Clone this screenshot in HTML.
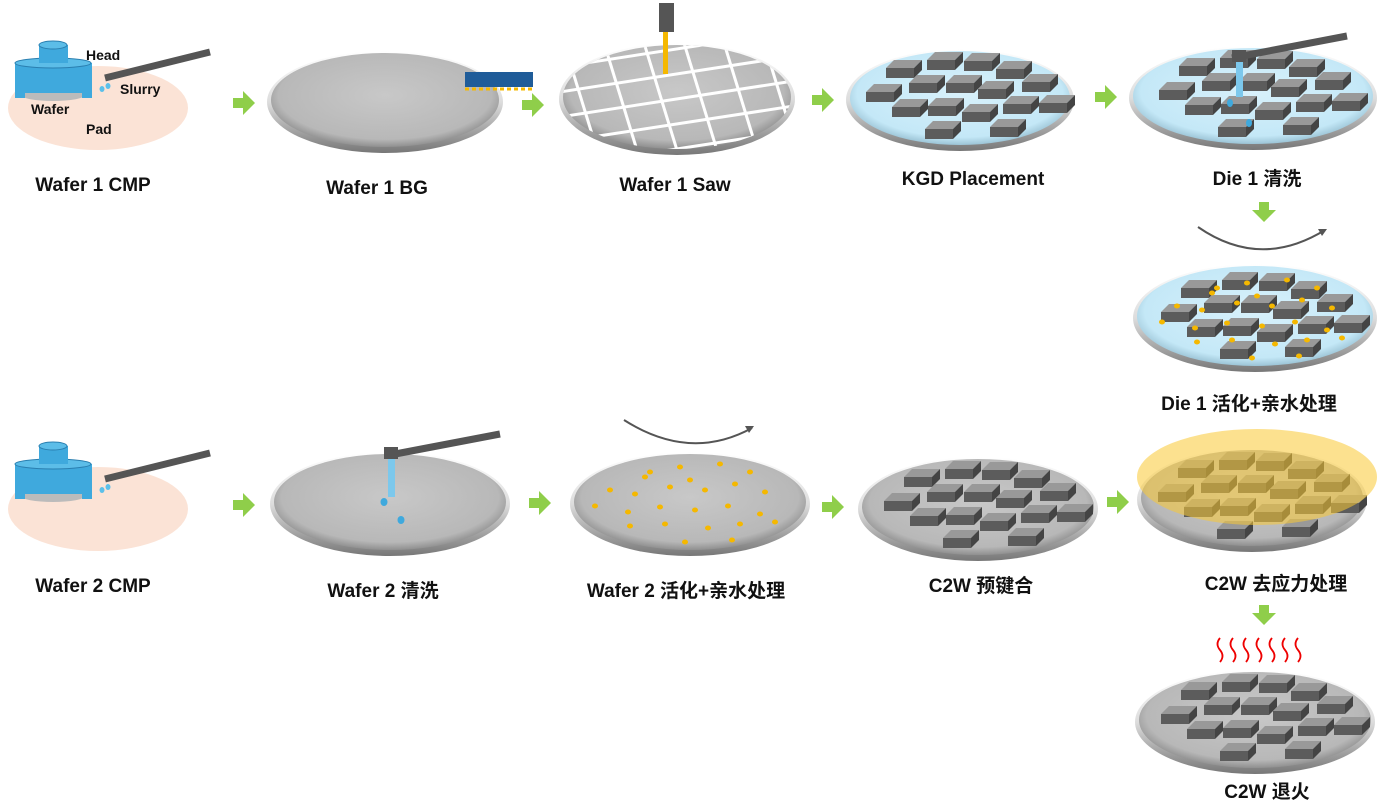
<!DOCTYPE html>
<html><head><meta charset="utf-8"><style>
html,body{margin:0;padding:0;background:#fff;}
svg{display:block;}
text{font-family:"Liberation Sans","Noto Sans CJK SC",sans-serif;font-weight:bold;fill:#111;}
</style></head><body>
<svg width="1388" height="802" viewBox="0 0 1388 802" xmlns="http://www.w3.org/2000/svg">
<defs>
<radialGradient id="gw" cx="50%" cy="45%" r="55%">
<stop offset="0" stop-color="#c8c8c8"/><stop offset="0.85" stop-color="#b8b8b8"/><stop offset="1" stop-color="#909090"/></radialGradient>
<radialGradient id="bw" cx="50%" cy="45%" r="55%">
<stop offset="0" stop-color="#d8f1fb"/><stop offset="0.85" stop-color="#c4e8f7"/><stop offset="1" stop-color="#9cc4d6"/></radialGradient>
<linearGradient id="rim" x1="0" y1="0" x2="0" y2="1"><stop offset="0" stop-color="#fff"/><stop offset="0.5" stop-color="#ddd"/><stop offset="1" stop-color="#777"/></linearGradient>
<g id="die">
<polygon points="0,8 8,0 36,0 28,8" fill="#999"/>
<rect x="0" y="8" width="28" height="10" fill="#5c5c5c"/>
<polygon points="28,8 36,0 36,10 28,18" fill="#444"/>
</g>
<g id="dies">
<use href="#die" x="886" y="60"/><use href="#die" x="927" y="52"/><use href="#die" x="964" y="53"/><use href="#die" x="996" y="61"/>
<use href="#die" x="866" y="84"/><use href="#die" x="909" y="75"/><use href="#die" x="946" y="75"/><use href="#die" x="978" y="81"/><use href="#die" x="1022" y="74"/>
<use href="#die" x="892" y="99"/><use href="#die" x="928" y="98"/><use href="#die" x="962" y="104"/><use href="#die" x="1003" y="96"/><use href="#die" x="1039" y="95"/>
<use href="#die" x="925" y="121"/><use href="#die" x="990" y="119"/>
</g>
<polygon id="ga" points="0,-5 10,-5 10,-12 22,0 10,12 10,5 0,5" fill="#8fce4a"/>
<polygon id="gd" points="-5,0 5,0 5,8 12,8 0,20 -12,8 -5,8" fill="#8fce4a"/>
<g id="dots" fill="#f5b800">
<ellipse cx="-40" cy="-30" rx="3" ry="2.5"/><ellipse cx="-10" cy="-35" rx="3" ry="2.5"/><ellipse cx="30" cy="-38" rx="3" ry="2.5"/><ellipse cx="60" cy="-30" rx="3" ry="2.5"/>
<ellipse cx="-80" cy="-12" rx="3" ry="2.5"/><ellipse cx="-55" cy="-8" rx="3" ry="2.5"/><ellipse cx="-20" cy="-15" rx="3" ry="2.5"/><ellipse cx="15" cy="-12" rx="3" ry="2.5"/><ellipse cx="45" cy="-18" rx="3" ry="2.5"/><ellipse cx="75" cy="-10" rx="3" ry="2.5"/>
<ellipse cx="-95" cy="4" rx="3" ry="2.5"/><ellipse cx="-62" cy="10" rx="3" ry="2.5"/><ellipse cx="-30" cy="5" rx="3" ry="2.5"/><ellipse cx="5" cy="8" rx="3" ry="2.5"/><ellipse cx="38" cy="4" rx="3" ry="2.5"/><ellipse cx="70" cy="12" rx="3" ry="2.5"/>
<ellipse cx="-60" cy="24" rx="3" ry="2.5"/><ellipse cx="-25" cy="22" rx="3" ry="2.5"/><ellipse cx="18" cy="26" rx="3" ry="2.5"/><ellipse cx="50" cy="22" rx="3" ry="2.5"/><ellipse cx="85" cy="20" rx="3" ry="2.5"/>
<ellipse cx="-5" cy="40" rx="3" ry="2.5"/><ellipse cx="42" cy="38" rx="3" ry="2.5"/><ellipse cx="-45" cy="-25" rx="3" ry="2.5"/><ellipse cx="0" cy="-22" rx="3" ry="2.5"/>
</g>
</defs>

<g id="cmp">
<ellipse cx="98" cy="108" rx="90" ry="42" fill="#fbe3d6"/>
<ellipse cx="53" cy="95" rx="32" ry="6" fill="#bbb"/>
<rect x="15" y="63" width="77" height="30" fill="#3fa9dd"/>
<rect x="15" y="87" width="10" height="11" fill="#3fa9dd"/><rect x="82" y="87" width="10" height="11" fill="#3fa9dd"/>
<ellipse cx="53" cy="63" rx="38" ry="5" fill="#5cbde8" stroke="#2a7fb0" stroke-width="1"/>
<rect x="39" y="45" width="29" height="18" fill="#3fa9dd"/>
<ellipse cx="53" cy="45" rx="14" ry="4" fill="#5cbde8" stroke="#2a7fb0" stroke-width="1"/>
<line x1="105" y1="78" x2="210" y2="52" stroke="#555" stroke-width="7"/>
<ellipse cx="102" cy="89" rx="2.5" ry="3" fill="#5bc0ea"/><ellipse cx="108" cy="86" rx="2.5" ry="3" fill="#5bc0ea"/>
<text x="86" y="60" font-size="14" font-weight="normal">Head</text>
<text x="120" y="94" font-size="14" font-weight="normal">Slurry</text>
<text x="31" y="114" font-size="14" font-weight="normal">Wafer</text>
<text x="86" y="134" font-size="14" font-weight="normal">Pad</text>
</g>
<g transform="translate(0,401)">
<ellipse cx="98" cy="108" rx="90" ry="42" fill="#fbe3d6"/>
<ellipse cx="53" cy="95" rx="32" ry="6" fill="#bbb"/>
<rect x="15" y="63" width="77" height="30" fill="#3fa9dd"/>
<rect x="15" y="87" width="10" height="11" fill="#3fa9dd"/><rect x="82" y="87" width="10" height="11" fill="#3fa9dd"/>
<ellipse cx="53" cy="63" rx="38" ry="5" fill="#5cbde8" stroke="#2a7fb0" stroke-width="1"/>
<rect x="39" y="45" width="29" height="18" fill="#3fa9dd"/>
<ellipse cx="53" cy="45" rx="14" ry="4" fill="#5cbde8" stroke="#2a7fb0" stroke-width="1"/>
<line x1="105" y1="78" x2="210" y2="52" stroke="#555" stroke-width="7"/>
<ellipse cx="102" cy="89" rx="2.5" ry="3" fill="#5bc0ea"/><ellipse cx="108" cy="86" rx="2.5" ry="3" fill="#5bc0ea"/>
</g>

<ellipse cx="385" cy="102" rx="118" ry="51" fill="url(#rim)"/>
<ellipse cx="385" cy="100" rx="114" ry="47" fill="url(#gw)"/>
<rect x="465" y="72" width="68" height="15" fill="#1f5c99"/>
<line x1="465" y1="89" x2="533" y2="89" stroke="#f5b800" stroke-width="3" stroke-dasharray="4,3"/>

<ellipse cx="677" cy="99" rx="118" ry="56" fill="url(#rim)"/>
<ellipse cx="677" cy="97" rx="114" ry="52" fill="url(#gw)"/>
<clipPath id="sc"><ellipse cx="677" cy="97" rx="114" ry="52"/></clipPath>
<g clip-path="url(#sc)" stroke="#fff" stroke-width="3">
<line x1="540" y1="70" x2="800" y2="30"/><line x1="540" y1="95" x2="800" y2="55"/><line x1="540" y1="120" x2="800" y2="80"/><line x1="540" y1="145" x2="800" y2="105"/><line x1="540" y1="170" x2="800" y2="130"/><line x1="540" y1="195" x2="800" y2="155"/>
<line x1="560" y1="30" x2="600" y2="160"/><line x1="600" y1="30" x2="640" y2="160"/><line x1="640" y1="30" x2="680" y2="160"/><line x1="680" y1="30" x2="720" y2="160"/><line x1="720" y1="30" x2="760" y2="160"/><line x1="760" y1="30" x2="800" y2="160"/>
</g>
<rect x="659" y="3" width="15" height="29" fill="#555"/>
<rect x="663" y="32" width="5" height="42" fill="#f5b800"/>

<ellipse cx="960" cy="100" rx="114" ry="51" fill="url(#rim)"/>
<ellipse cx="960" cy="98" rx="110" ry="47" fill="url(#bw)"/>
<use href="#dies"/>

<ellipse cx="1253" cy="98" rx="124" ry="52" fill="url(#rim)"/>
<ellipse cx="1253" cy="96" rx="120" ry="48" fill="url(#bw)"/>
<use href="#dies" transform="translate(293,-2)"/>
<line x1="1232" y1="58" x2="1347" y2="36" stroke="#555" stroke-width="7"/>
<rect x="1232" y="50" width="14" height="12" fill="#555"/>
<rect x="1236" y="62" width="7" height="35" fill="#7cc8ec"/>
<ellipse cx="1230" cy="103" rx="3" ry="4" fill="#3fa9dd"/><ellipse cx="1249" cy="123" rx="3" ry="4" fill="#3fa9dd"/>

<ellipse cx="1255" cy="318" rx="122" ry="54" fill="url(#rim)"/>
<ellipse cx="1255" cy="316" rx="118" ry="50" fill="url(#bw)"/>
<use href="#dies" transform="translate(295,220)"/>
<use href="#dots" transform="translate(1257,318)"/>
<path d="M1198 227 Q1260 270 1325 230" fill="none" stroke="#555" stroke-width="2"/>
<polygon points="1327,229 1318,229 1322,236" fill="#555"/>

<ellipse cx="390" cy="504" rx="120" ry="52" fill="url(#rim)"/>
<ellipse cx="390" cy="502" rx="116" ry="48" fill="url(#gw)"/>
<line x1="390" y1="455" x2="500" y2="434" stroke="#555" stroke-width="7"/>
<rect x="384" y="447" width="14" height="12" fill="#555"/>
<rect x="388" y="459" width="7" height="38" fill="#7cc8ec"/>
<ellipse cx="384" cy="502" rx="3.5" ry="4" fill="#3fa9dd"/><ellipse cx="401" cy="520" rx="3.5" ry="4" fill="#3fa9dd"/>

<ellipse cx="690" cy="504" rx="120" ry="52" fill="url(#rim)"/>
<ellipse cx="690" cy="502" rx="116" ry="48" fill="url(#gw)"/>
<use href="#dots" transform="translate(690,502)"/>
<path d="M624 420 Q690 462 752 428" fill="none" stroke="#555" stroke-width="2"/>
<polygon points="754,426 745,426 749,433" fill="#555"/>

<ellipse cx="978" cy="509" rx="120" ry="52" fill="url(#rim)"/>
<ellipse cx="978" cy="507" rx="116" ry="48" fill="url(#gw)"/>
<use href="#dies" transform="translate(18,409)"/>

<ellipse cx="1252" cy="500" rx="115" ry="52" fill="url(#rim)"/>
<ellipse cx="1252" cy="498" rx="111" ry="48" fill="url(#gw)"/>
<use href="#dies" transform="translate(292,400)"/>
<ellipse cx="1257" cy="477" rx="120" ry="48" fill="#f9c833" opacity="0.55"/>

<ellipse cx="1255" cy="722" rx="120" ry="52" fill="url(#rim)"/>
<ellipse cx="1255" cy="720" rx="116" ry="48" fill="url(#gw)"/>
<use href="#dies" transform="translate(295,622)"/>
<g fill="none" stroke="#e00" stroke-width="1.8">
<path d="M1220 638 q-5 6 0 12 q5 6 0 12"/><path d="M1233 638 q-5 6 0 12 q5 6 0 12"/><path d="M1246 638 q-5 6 0 12 q5 6 0 12"/><path d="M1259 638 q-5 6 0 12 q5 6 0 12"/><path d="M1272 638 q-5 6 0 12 q5 6 0 12"/><path d="M1285 638 q-5 6 0 12 q5 6 0 12"/><path d="M1298 638 q-5 6 0 12 q5 6 0 12"/>
</g>

<use href="#ga" x="233" y="103"/><use href="#ga" x="522" y="105"/><use href="#ga" x="812" y="100"/><use href="#ga" x="1095" y="97"/>
<use href="#ga" x="233" y="505"/><use href="#ga" x="529" y="503"/><use href="#ga" x="822" y="507"/><use href="#ga" x="1107" y="502"/>
<use href="#gd" x="1264" y="202"/><use href="#gd" x="1264" y="605"/>

<g font-size="19" text-anchor="middle">
<text x="93" y="191">Wafer 1 CMP</text>
<text x="377" y="194">Wafer 1 BG</text>
<text x="675" y="191">Wafer 1 Saw</text>
<text x="973" y="185">KGD Placement</text>
<text x="1257" y="185">Die 1 清洗</text>
<text x="1249" y="410">Die 1 活化+亲水处理</text>
<text x="93" y="592">Wafer 2 CMP</text>
<text x="383" y="597">Wafer 2 清洗</text>
<text x="686" y="597">Wafer 2 活化+亲水处理</text>
<text x="981" y="592">C2W 预键合</text>
<text x="1276" y="590">C2W 去应力处理</text>
<text x="1267" y="798">C2W 退火</text>
</g>
</svg>
</body></html>
